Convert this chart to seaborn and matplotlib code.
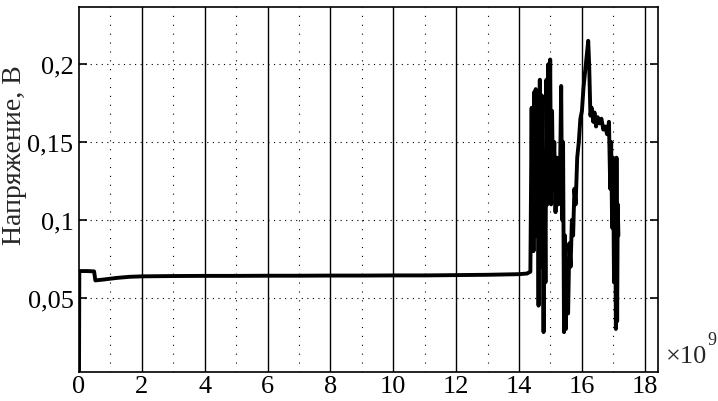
import matplotlib
matplotlib.use("Agg")
import matplotlib.pyplot as plt
import seaborn as sns
import pandas as pd

# time (x10^9) and voltage (V)
t = [0.0, 0.01, 0.25, 0.48, 0.52, 0.8, 1.2, 1.6, 2.0, 3.0, 4.0, 5.0, 6.0, 7.0,
     8.0, 9.0, 10.0, 11.0, 12.0, 13.0, 14.0, 14.25, 14.36,
     14.38, 14.40, 14.42, 14.44, 14.46, 14.48, 14.50, 14.53, 14.56, 14.59,
     14.62, 14.64, 14.66, 14.69, 14.72, 14.75, 14.78, 14.81, 14.84, 14.87,
     14.90, 14.93, 14.96, 14.99, 15.02, 15.05, 15.08, 15.12, 15.16, 15.20,
     15.25, 15.30, 15.34, 15.37, 15.40, 15.43, 15.46, 15.49, 15.52, 15.56,
     15.60, 15.64, 15.68, 15.72, 15.76, 15.80, 15.85, 15.90, 15.95, 16.00,
     16.05, 16.10, 16.15, 16.20, 16.23, 16.27, 16.31, 16.36, 16.40, 16.45,
     16.50, 16.56, 16.62, 16.68, 16.74, 16.80, 16.86, 16.90, 16.93, 16.96,
     16.99, 17.02, 17.05, 17.08, 17.10, 17.12, 17.14, 17.16]
v = [0.0, 0.0672, 0.0672, 0.0670, 0.0612, 0.0618, 0.0628, 0.0635, 0.0638, 0.0640,
     0.0641, 0.0641, 0.0642, 0.0642, 0.0643, 0.0643, 0.0644, 0.0644, 0.0646, 0.0648,
     0.0652, 0.0656, 0.0668,
     0.120, 0.172, 0.100, 0.160, 0.080, 0.182, 0.120, 0.184, 0.090, 0.150,
     0.045, 0.130, 0.190, 0.070, 0.180, 0.110, 0.028, 0.140, 0.060, 0.190,
     0.110, 0.200, 0.130, 0.203, 0.110, 0.170, 0.120, 0.150, 0.105, 0.140,
     0.110, 0.125, 0.186, 0.100, 0.150, 0.028, 0.090, 0.030, 0.070, 0.040,
     0.085, 0.070, 0.100, 0.090, 0.120, 0.110, 0.140, 0.150, 0.165, 0.170,
     0.185, 0.195, 0.205, 0.215, 0.200, 0.167, 0.172, 0.163, 0.169, 0.160,
     0.166, 0.162, 0.165, 0.158, 0.160, 0.155, 0.163, 0.120, 0.150, 0.095,
     0.140, 0.060, 0.130, 0.030, 0.140, 0.035, 0.110, 0.090]

xticks = [0, 2, 4, 6, 8, 10, 12, 14, 16, 18]
yticks = [0.05, 0.1, 0.15, 0.2]
yticklabels = ["0,05", "0,1", "0,15", "0,2"]

df = pd.DataFrame({"t": t, "v": v})

sns.set_theme(style="white")
plt.rcParams['font.family'] = ['Liberation Serif', 'DejaVu Serif']

fig = plt.figure(figsize=(7.18, 4.02), dpi=100)
ax = fig.add_axes([79/718, 1 - 373/402, (658 - 79)/718, (373 - 8)/402])

sns.lineplot(data=df, x="t", y="v", ax=ax, color="black", linewidth=2.8,
             sort=False, estimator=None, zorder=3)

ax.set_xlim(0, 18.42)
ax.set_ylim(0.0024, 0.2367)

# grid: solid vertical lines at major x, dotted horizontals at y ticks
for xv in xticks[1:]:
    ax.axvline(xv, color="black", linewidth=1.0, zorder=1)
for xv in [1, 3, 5, 7, 9, 11, 13, 15, 17]:
    ax.axvline(xv, color="black", linewidth=0.8, linestyle=(0, (1, 7)), zorder=1)
for yv in yticks:
    ax.axhline(yv, color="black", linewidth=0.8, linestyle=(0, (1, 4)), zorder=1)

ax.set_xticks(xticks)
ax.set_xticklabels([str(x) for x in xticks])
ax.set_yticks(yticks)
ax.set_yticklabels(yticklabels)
ax.tick_params(axis="both", direction="in", length=6, width=1.2, colors="black",
               labelsize=19, left=True, right=True, bottom=False, top=False)
ax.tick_params(axis="x", pad=2)
ax.tick_params(axis="y", pad=4)

for s in ax.spines.values():
    s.set_color("black")
    s.set_linewidth(1.2)

ax.set_xlabel("")
ax.set_ylabel("Напряжение, В", fontsize=20)
ax.yaxis.set_label_coords(-52/579, (373 - 155)/365)

fig.text(666/718, 1 - 363/402, "×10", fontsize=19, ha="left", va="baseline")
fig.text(707/718, 1 - 345/402, "9", fontsize=13, ha="left", va="baseline")

fig.savefig("out.png", dpi=100)
